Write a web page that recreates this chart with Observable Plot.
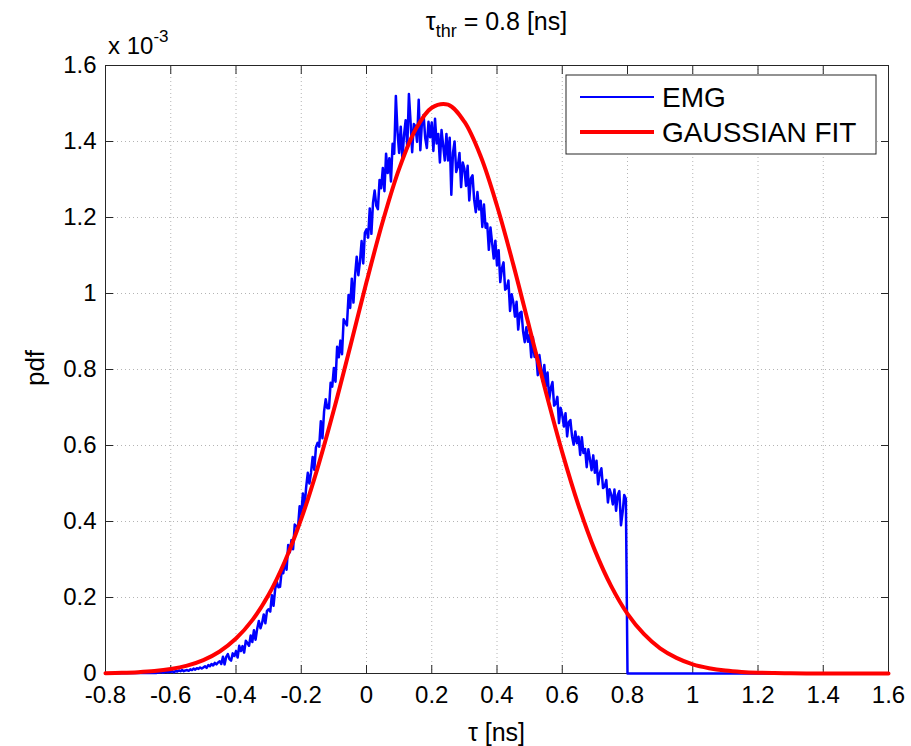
<!DOCTYPE html>
<html><head><meta charset="utf-8">
<script src="https://cdn.jsdelivr.net/npm/d3@7"></script>
<script src="https://cdn.jsdelivr.net/npm/@observablehq/plot@0.6"></script>
<style>
body{margin:0;background:#fff;}
#chart{width:911px;height:746px;}
</style></head><body><div id="chart"></div>
<script>
// ---- data (pdf values in units of 1e-3) ----
const xTicks = [-0.8,-0.6,-0.4,-0.2,0,0.2,0.4,0.6,0.8,1,1.2,1.4,1.6];
const yTicks = [0,0.2,0.4,0.6,0.8,1,1.2,1.4,1.6];
const titleMain = "τ", titleSub = "thr", titleRest = " = 0.8 [ns]";
const xLabel = "τ [ns]", yLabel = "pdf";
const seriesNames = ["EMG", "GAUSSIAN FIT"];

// EMG histogram: bins of 0.005 ns starting at -0.65 ns
const emgStart = -0.65, emgStep = 0.005;
const emgValues = [
0.002,0.001,0.003,0.002,0.004,0.002,0.003,0.005,0.003,0.004,
0.004,0.006,0.003,0.007,0.005,0.008,0.006,0.009,0.006,0.008,
0.009,0.007,0.011,0.009,0.013,0.010,0.014,0.012,0.016,0.013,
0.016,0.019,0.015,0.022,0.019,0.025,0.021,0.028,0.024,0.029,
0.032,0.025,0.044,0.024,0.044,0.051,0.038,0.034,0.053,0.046,
0.059,0.042,0.073,0.059,0.072,0.055,0.086,0.080,0.073,0.100,
0.083,0.114,0.089,0.118,0.138,0.119,0.133,0.155,0.132,0.165,
0.169,0.163,0.206,0.178,0.222,0.242,0.227,0.228,0.270,0.264,
0.297,0.273,0.338,0.319,0.351,0.327,0.392,0.388,0.383,0.440,
0.418,0.474,0.437,0.490,0.528,0.500,0.529,0.570,0.536,0.595,
0.607,0.597,0.664,0.619,0.690,0.722,0.698,0.698,0.765,0.755,
0.804,0.768,0.860,0.832,0.876,0.840,0.932,0.924,0.916,0.996,
0.962,1.039,0.976,1.048,1.097,1.048,1.084,1.138,1.079,1.160,
1.169,1.147,1.224,1.157,1.239,1.271,1.231,1.222,1.299,1.277,
1.330,1.269,1.368,1.317,1.356,1.295,1.394,1.368,1.520,1.426,
1.370,1.439,1.353,1.417,1.456,1.385,1.525,1.453,1.372,1.446,
1.440,1.399,1.510,1.377,1.451,1.470,1.409,1.383,1.452,1.411,
1.450,1.375,1.460,1.395,1.420,1.345,1.430,1.390,1.350,1.420,
1.350,1.410,1.260,1.370,1.400,1.320,1.335,1.370,1.280,1.345,
1.329,1.283,1.336,1.245,1.303,1.311,1.247,1.214,1.267,1.221,
1.244,1.175,1.234,1.173,1.184,1.115,1.174,1.133,1.092,1.139,
1.074,1.114,1.030,1.066,1.082,1.010,1.014,1.034,0.954,0.998,
0.977,0.939,0.978,0.905,0.948,0.952,0.900,0.872,0.911,0.873,
0.891,0.832,0.885,0.833,0.844,0.785,0.838,0.804,0.769,0.812,
0.756,0.792,0.720,0.752,0.767,0.705,0.710,0.728,0.659,0.699,
0.681,0.650,0.685,0.624,0.662,0.667,0.624,0.602,0.637,0.606,
0.623,0.575,0.622,0.580,0.591,0.543,0.590,0.563,0.535,0.574,
0.528,0.560,0.498,0.527,0.540,0.488,0.492,0.509,0.450,0.485,
0.471,0.445,0.484,0.428,0.470,0.480,0.390,0.424,0.470,0.460
];
const emgHead = [[-0.8, 0]];
const emgTail = [[0.8, 0], [1.6, 0]];

// Gaussian fit sampled every 0.05 ns from -0.8 ns
const gaussStart = -0.8, gaussStep = 0.05;
const gaussValues = [
0.0009,0.0018,0.0035,0.0065,0.0119,0.0209,0.0354,0.0580,0.0919,0.1404,
0.2073,0.2955,0.4068,0.5406,0.694,0.860,1.030,1.190,1.328,1.431,
1.489,1.497,1.452,1.361,1.231,1.076,0.908,0.740,0.582,0.442,
0.324,0.230,0.157,0.104,0.066,0.041,0.024,0.014,0.0077,0.0041,
0.0021,0.0011,0.0005,0.0002,0.0001,0,0,0,0
];

// ---- tables ----
const r4 = v => Math.round(v * 10000) / 10000;
const emgData = [
  ...emgHead.map(([x, y]) => ({x, y})),
  ...emgValues.map((y, i) => ({x: r4(emgStart + i * emgStep), y})),
  ...emgTail.map(([x, y]) => ({x, y}))
];
const gaussData = gaussValues.map((y, i) => ({x: r4(gaussStart + i * gaussStep), y}));

const FONT = "'Liberation Sans', Arial, Helvetica, sans-serif";
const fmt = d => String(Math.round(d * 10) / 10);
const AX = "#262626";
const gridOpts = {stroke: "#b4b4b4", strokeOpacity: 1, strokeWidth: 1, strokeDasharray: "1,3"};

const chart = Plot.plot({
  width: 911, height: 746,
  marginLeft: 105, marginRight: 23, marginTop: 65, marginBottom: 73,
  style: {fontFamily: FONT, fontSize: "24px", background: "#fff", color: "#000", overflow: "visible"},
  x: {domain: [-0.8, 1.6]},
  y: {domain: [0, 1.6]},
  marks: [
    Plot.gridX(xTicks.slice(1, -1), gridOpts),
    Plot.gridY(yTicks.slice(1, -1), gridOpts),
    Plot.frame({stroke: AX, strokeWidth: 1}),
    Plot.axisX(xTicks, {anchor: "bottom", tickSize: -8, tickPadding: 20, tickFormat: fmt, label: null, stroke: AX, fontSize: 24}),
    Plot.axisX(xTicks, {anchor: "top", tickSize: -8, tickFormat: () => "", label: null, stroke: AX}),
    Plot.axisY(yTicks, {anchor: "left", tickSize: -8, tickPadding: 17, tickFormat: fmt, label: null, stroke: AX, fontSize: 24}),
    Plot.axisY(yTicks, {anchor: "right", tickSize: -8, tickFormat: () => "", label: null, stroke: AX}),
    Plot.line(emgData, {x: "x", y: "y", stroke: "#0000ff", strokeWidth: 2.5}),
    Plot.line(gaussData, {x: "x", y: "y", stroke: "#ff0000", strokeWidth: 4, curve: "catmull-rom"})
  ]
});
document.getElementById("chart").appendChild(chart);

const svg = d3.select(chart);
const W = 911, ML = 105, MR = 23;
const cx = (ML + (W - MR)) / 2;

// title
const t = svg.append("text").attr("x", cx).attr("y", 30).attr("text-anchor", "middle")
  .attr("font-family", FONT).attr("font-size", 25).attr("fill", "#000");
t.append("tspan").text(titleMain);
t.append("tspan").attr("dy", 7).attr("font-size", 18).text(titleSub);
t.append("tspan").attr("dy", -7).text(titleRest);

// multiplier
const m = svg.append("text").attr("x", 108).attr("y", 54).attr("text-anchor", "start")
  .attr("font-family", FONT).attr("font-size", 24).attr("fill", "#000");
m.append("tspan").text("x 10");
m.append("tspan").attr("dy", -12).attr("font-size", 17).text("-3");

// axis labels
svg.append("text").attr("x", cx).attr("y", 741).attr("text-anchor", "middle")
  .attr("font-family", FONT).attr("font-size", 25).attr("fill", "#000").text(xLabel);
svg.append("text").attr("transform", "translate(44,368) rotate(-90)").attr("text-anchor", "middle")
  .attr("font-family", FONT).attr("font-size", 26).attr("fill", "#000").text(yLabel);

// legend
const lg = svg.append("g");
lg.append("rect").attr("x", 566).attr("y", 75).attr("width", 310).attr("height", 79)
  .attr("fill", "#fff").attr("stroke", AX).attr("stroke-width", 1);
const rows = [{name: seriesNames[0], color: "#0000ff", w: 2, y: 97}, {name: seriesNames[1], color: "#ff0000", w: 4, y: 132}];
rows.forEach(r => {
  lg.append("line").attr("x1", 580).attr("x2", 654).attr("y1", r.y).attr("y2", r.y)
    .attr("stroke", r.color).attr("stroke-width", r.w);
  lg.append("text").attr("x", 662).attr("y", r.y + 10).attr("text-anchor", "start").attr("font-family", FONT)
    .attr("font-size", 28).attr("fill", "#000").text(r.name);
});
</script></body></html>
